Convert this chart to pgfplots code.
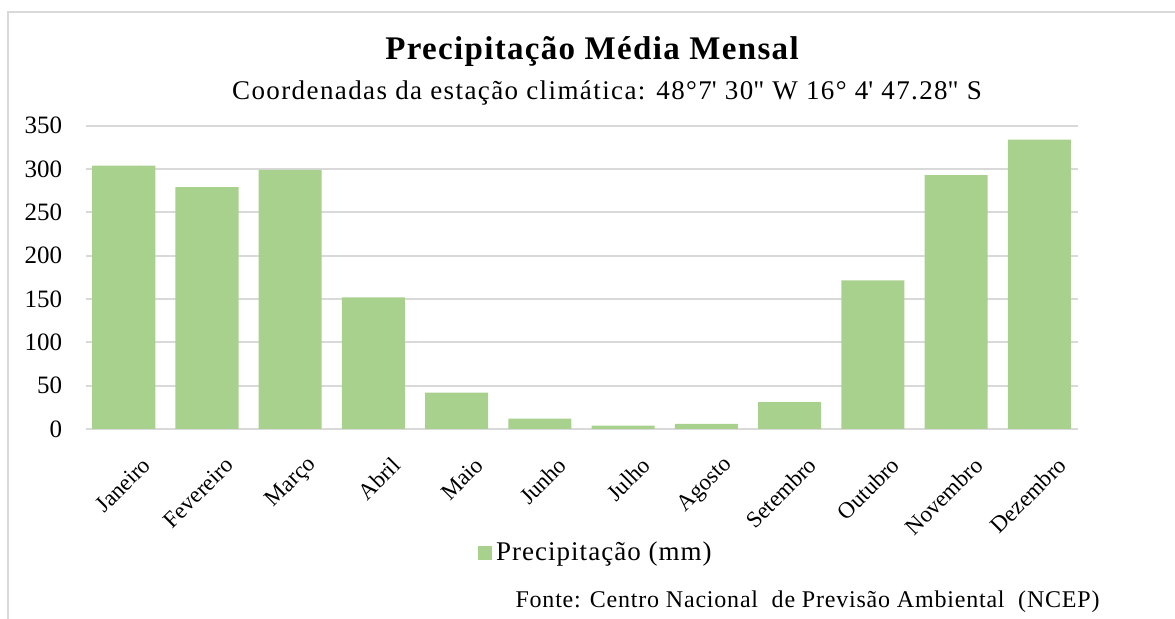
\documentclass[border=0pt]{standalone}
\usepackage{pgfplots}
\pgfplotsset{compat=1.18}
\usepackage{fontspec}
\setmainfont{Liberation Serif}
\definecolor{barverde}{HTML}{A9D18E}
\definecolor{grade}{HTML}{D9D9D9}
\newcommand{\espaco}[1]{\addfontfeatures{LetterSpace=#1}}
\begin{document}
\begin{tikzpicture}
  % page area and outer frame
  \useasboundingbox (0pt,0pt) rectangle (587.5pt,-309.5pt);
  \draw[grade,line width=1pt] (3.75pt,-309.5pt) -- (3.75pt,-6pt) -- (587.5pt,-6pt);
  % titles
  \node[font=\fontsize{16.5}{19}\selectfont\bfseries\espaco{4}] at (296pt,-26pt) {Precipitação Média Mensal};
  \node[font=\fontsize{13.5}{16}\selectfont\espaco{5.2}] at (303.5pt,-46.5pt)
    {Coordenadas da estação climática: 48°7\textquotesingle\ 30\textquotedbl\ W 16° 4\textquotesingle\ 47.28\textquotedbl\ S};
  \begin{axis}[
    at={(43.15pt,-214.5pt)}, anchor=south west,
    scale only axis, width=495.7pt, height=151.65pt,
    ymin=0, ymax=350, ytick={0,50,...,350},
    xmin=-0.45, xmax=11.46,
    xtick=data,
    xticklabels={Janeiro,Fevereiro,Março,Abril,Maio,Junho,Julho,Agosto,Setembro,Outubro,Novembro,Dezembro},
    axis lines*=left,
    y axis line style={draw=none},
    x axis line style={grade,line width=1pt,-},
    major tick length=0pt,
    ymajorgrids, grid style={grade,line width=1pt},
    yticklabel style={font=\fontsize{12.5}{15}\selectfont, xshift=-8.5pt},
    xticklabel style={font=\fontsize{11.5}{14}\selectfont, rotate=45, anchor=east, xshift=0pt, yshift=-19.5pt},
    /pgf/number format/assume math mode=true,
    legend style={at={(0.515,-0.409)}, anchor=center, draw=none, fill=none,
      font=\fontsize{13.5}{16}\selectfont\espaco{3.8}, inner sep=0pt},
    legend image code/.code={\fill[barverde] (0pt,-3.5pt) rectangle (7pt,3.5pt);},
  ]
    \addplot[ybar, bar width=0.757, fill=barverde, draw=none] coordinates {
      (0,304) (1,279) (2,299) (3,152) (4,42) (5,12)
      (6,4) (7,6) (8,31) (9,171.5) (10,293) (11,334)
    };
    \addlegendentry{Precipitação (mm)}
  \end{axis}
  \node[font=\fontsize{12}{14}\selectfont\espaco{3.3}] at (403.75pt,-301pt)
    {Fonte: Centro Nacional \ de Previsão Ambiental \ (NCEP)};
\end{tikzpicture}
\end{document}
